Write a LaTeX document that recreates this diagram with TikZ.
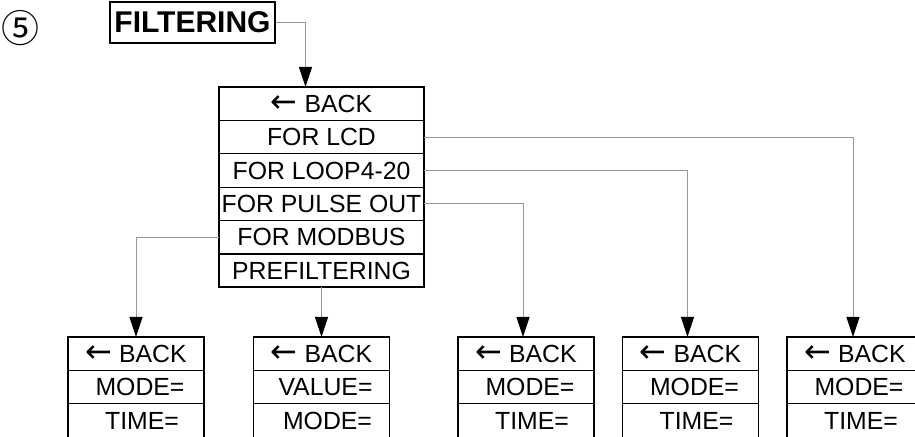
\documentclass[tikz,border=0pt]{standalone}
\usepackage{fontspec}
\setmainfont{Liberation Sans}
\newfontfamily\symfont{DejaVu Sans}
\newfontfamily\cjkfont{Noto Sans CJK SC}
\usetikzlibrary{positioning,arrows.meta}
\newcommand{\backtxt}{{\symfont\fontsize{16}{12}\selectfont←}\ BACK}
\tikzset{
  menurow/.style = {draw=black, line width=0.6pt, inner sep=0pt, outer sep=0pt,
    minimum width=102.5pt, minimum height=16.7pt, font=\fontsize{12.4}{14}\selectfont},
  subrow/.style = {menurow, minimum width=68pt},
  titlebox/.style = {draw=black, line width=0.8pt, inner sep=0pt, minimum width=82.5pt,
    minimum height=20.5pt, font=\fontsize{15}{16}\selectfont\bfseries},
  link/.style = {draw=gray!80, line width=0.5pt},
  arrowlink/.style = {link, -{Triangle[length=10pt,width=6.5pt,color=black]}}
}

\begin{document}
\begin{tikzpicture}[x=0.5pt, y=-0.5pt]
	\clip (0,0) rectangle (915,437);
	% title
	\node [font=\cjkfont\fontsize{19}{20}\selectfont] (num) at (21,28) {⑤};
	\node [titlebox] (filter) at (192.5,22.5) {FILTERING};
	% main menu
	\node [menurow] (back) at (321.5,103.7) {\backtxt};
	\node [menurow, below=0pt of back] (lcd) {FOR LCD};
	\node [menurow, below=0pt of lcd] (loop) {FOR LOOP4-20};
	\node [menurow, below=0pt of loop] (pulse) {FOR PULSE OUT};
	\node [menurow, below=0pt of pulse] (modbus) {FOR MODBUS};
	\node [menurow, below=0pt of modbus] (prefilt) {PREFILTERING};
	\draw [line width=0.9pt] (back.north west) rectangle (prefilt.south east);
	% sub menus
	\foreach \name/\x/\two/\three in {mb/136/MODE=/TIME=, pf/321.5/VALUE=/MODE=,
		po/526/MODE=/TIME=, lp/690.5/MODE=/TIME=, lc/855/MODE=/TIME=} {
		\node [subrow] (\name back) at (\x,353.7) {\backtxt};
		\node [subrow, below=0pt of \name back] (\name two) {\hspace*{4pt}\two};
		\node [subrow, below=0pt of \name two] (\name three) {\hspace*{6pt}\three};
	}
	% connectors
	\draw [arrowlink] (filter.east) -| ([xshift=-8pt]back.north);
	\draw [arrowlink] (lcd.east) -| ([xshift=-1pt]lcback.north);
	\draw [arrowlink] (loop.east) -| ([xshift=-1.5pt]lpback.north);
	\draw [arrowlink] (pulse.east) -| ([xshift=-1.5pt]poback.north);
	\draw [arrowlink] (modbus.west) -| (mbback.north);
	\draw [arrowlink] (prefilt.south) -- (pfback.north);
\end{tikzpicture}
\end{document}
